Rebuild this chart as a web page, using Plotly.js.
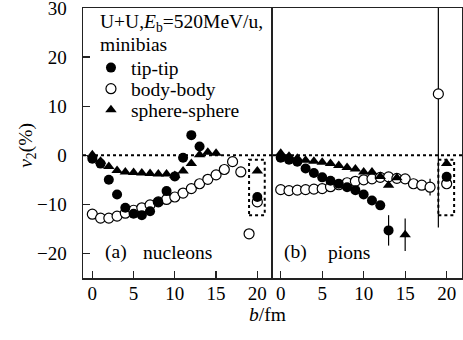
<!DOCTYPE html>
<html>
<head>
<meta charset="utf-8">
<script src="https://cdn.plot.ly/plotly-3.0.1.min.js"></script>
<style>html,body{margin:0;padding:0;background:#fff;}#chart{width:463px;height:340px;}</style>
</head>
<body>
<div id="chart"></div>
<script>
// ---- nucleons (panel a) ----
const nucTipX  = [0,1,2,3,4,5,6,7,8,9,10,11,12,13,20];
const nucTipY  = [-0.7,-1.7,-5.0,-8.0,-10.7,-11.9,-12.2,-11.4,-9.5,-7.3,-4.3,-0.5,4.1,1.8,-8.5];
const nucBodyX = [0,1,2,3,4,5,6,7,8,9,10,11,12,13,14,15,16,17,18,19,20];
const nucBodyY = [-12.0,-12.8,-12.8,-12.4,-11.8,-11.2,-10.7,-10.1,-9.5,-9.0,-8.5,-7.7,-6.8,-5.8,-4.9,-4.0,-2.9,-1.3,-3.4,-16.0,-9.5];
const nucSphX  = [0,1,2,3,4,5,6,7,8,9,10,11,12,13,14,15,20];
const nucSphY  = [0.1,-1.2,-2.3,-3.1,-3.4,-3.5,-3.6,-3.7,-3.8,-3.8,-4.1,-3.2,-1.7,0.1,0.6,0.4,-3.2];

// ---- pions (panel b) ----
const piTipX   = [0,1,2,3,4,5,6,7,8,9,10,11,12,13,20];
const piTipY   = [-0.5,-0.9,-1.3,-2.7,-3.6,-4.5,-5.2,-5.8,-6.5,-7.1,-8.0,-9.2,-10.2,-15.3,-4.4];
const piTipErr = [0,0,0,0,0,0,0,0,0,0,0,0,0,3.1,0];
const piBodyX  = [0,1,2,3,4,5,6,7,8,9,10,11,12,13,14,15,16,17,18,19,20];
const piBodyY  = [-7.0,-7.2,-7.1,-7.0,-6.9,-6.8,-6.4,-6.0,-5.6,-5.3,-5.0,-4.8,-4.5,-4.4,-4.7,-4.8,-5.8,-6.1,-6.5,12.5,-5.8];
const piBodyErr= [0,0,0,0,0,0,0,0,0,0,0,0,0,0,0,0,0,0,1.7,27.2,0];
const piSphX   = [0,1,2,3,4,5,6,7,8,9,10,11,12,13,14,15,20];
const piSphY   = [0.4,-0.2,-0.6,-1.0,-1.2,-1.4,-1.7,-2.1,-2.5,-2.8,-3.4,-3.4,-4.3,-6.1,-4.6,-16.2,-1.7];
const piSphErr = [0,0,0,0,0,0,0,0,0,0,0,0,0,0,0,3.3,0];

const seriesNames = ['tip-tip','body-body','sphere-sphere'];
const xTicks = [0,5,10,15,20];

const FONT = 'Liberation Serif, Times New Roman, serif';
const K = '#000';
const TXT = 19.5;
const mTip  = {symbol:'circle', size:10, color:K, line:{width:0}};
const mBodyFill = {symbol:'circle', size:10, color:'#fff', line:{width:1.2, color:K}};
const mSph  = {symbol:'triangle-up', size:10, color:K, line:{width:0}};
const eb = arr => ({type:'data', array:arr, visible:true, color:K, thickness:1.2, width:0});

const traces = [
  {x:nucBodyX, y:nucBodyY, mode:'markers', marker:mBodyFill, name:seriesNames[1], legend:'legend2', xaxis:'x', yaxis:'y'},
  {x:nucTipX, y:nucTipY, mode:'markers', marker:mTip, name:seriesNames[0], legend:'legend', xaxis:'x', yaxis:'y'},
  {x:nucSphX, y:nucSphY, mode:'markers', marker:mSph, name:seriesNames[2], legend:'legend3', xaxis:'x', yaxis:'y'},
  {x:piBodyX, y:piBodyY, error_y:eb(piBodyErr), mode:'markers', marker:mBodyFill, name:seriesNames[1], showlegend:false, xaxis:'x2', yaxis:'y2'},
  {x:piTipX, y:piTipY, error_y:eb(piTipErr), mode:'markers', marker:mTip, name:seriesNames[0], showlegend:false, xaxis:'x2', yaxis:'y2'},
  {x:piSphX, y:piSphY, error_y:eb(piSphErr), mode:'markers', marker:mSph, name:seriesNames[2], showlegend:false, xaxis:'x2', yaxis:'y2'}
];

const axBase = {
  showline:true, mirror:true, linecolor:'#222', linewidth:1.5,
  ticks:'inside', ticklen:7, tickwidth:1.3, tickcolor:'#222',
  showgrid:false, zeroline:false, ticklabeloverflow:'allow',
  tickfont:{family:FONT, size:19, color:K}
};
const split = 0.5013;
const legBase = {x:0.021, xanchor:'left', yanchor:'middle', bgcolor:'rgba(0,0,0,0)',
                 font:{family:FONT, size:TXT, color:K}, itemwidth:30};

const layout = {
  width:463, height:340,
  margin:{l:83, r:1, t:8, b:62, pad:0},
  paper_bgcolor:'#fff', plot_bgcolor:'#fff',
  font:{family:FONT, size:TXT, color:K},
  showlegend:true,
  legend: Object.assign({}, legBase, {y:0.778}),
  legend2:Object.assign({}, legBase, {y:0.700}),
  legend3:Object.assign({}, legBase, {y:0.622}),
  xaxis:Object.assign({}, axBase, {domain:[0,split], range:[-1.13,21.9], tickvals:xTicks, anchor:'y', ticklabelstandoff:-2}),
  xaxis2:Object.assign({}, axBase, {domain:[split,1], range:[-0.93,21.85], tickvals:xTicks, anchor:'y2', ticklabelstandoff:-2}),
  yaxis:Object.assign({}, axBase, {range:[-25,30], dtick:10, anchor:'x', mirror:false, ticklabelstandoff:11}),
  yaxis2:Object.assign({}, axBase, {range:[-25,30], dtick:10, anchor:'x2', ticks:'', showticklabels:false}),
  shapes:[
    {type:'line', xref:'x domain', yref:'y', x0:0, x1:1, y0:0, y1:0, line:{color:K, width:2, dash:'3px,3px'}},
    {type:'line', xref:'x2 domain', yref:'y2', x0:0, x1:1, y0:0, y1:0, line:{color:K, width:2, dash:'3px,3px'}},
    {type:'rect', xref:'x', yref:'y', x0:19.0, x1:20.9, y0:-12.2, y1:-0.9, line:{color:K, width:2, dash:'3px,3px'}},
    {type:'rect', xref:'x2', yref:'y2', x0:19.0, x1:20.9, y0:-12.2, y1:-0.9, line:{color:K, width:2, dash:'3px,3px'}}
  ],
  annotations:[
    {xref:'paper', yref:'paper', x:-0.148, y:0.493, xanchor:'center', yanchor:'middle', showarrow:false, textangle:-90,
     text:'<i>v</i><sub>2</sub>(%)', font:{family:FONT, size:TXT, color:K}},
    {xref:'paper', yref:'paper', x:0.040, y:0.944, xanchor:'left', yanchor:'middle', showarrow:false,
     text:'U+U,<i>E</i><sub>b</sub>=520MeV/u,', font:{family:FONT, size:TXT, color:K}},
    {xref:'paper', yref:'paper', x:0.040, y:0.863, xanchor:'left', yanchor:'middle', showarrow:false,
     text:'minibias', font:{family:FONT, size:TXT, color:K}},
    {xref:'paper', yref:'paper', x:0.053, y:0.096, xanchor:'left', yanchor:'middle', showarrow:false,
     text:'(a)', font:{family:FONT, size:TXT, color:K}},
    {xref:'paper', yref:'paper', x:0.154, y:0.096, xanchor:'left', yanchor:'middle', showarrow:false,
     text:'nucleons', font:{family:FONT, size:TXT, color:K}},
    {xref:'paper', yref:'paper', x:0.525, y:0.096, xanchor:'left', yanchor:'middle', showarrow:false,
     text:'(b)', font:{family:FONT, size:TXT, color:K}},
    {xref:'paper', yref:'paper', x:0.642, y:0.096, xanchor:'left', yanchor:'middle', showarrow:false,
     text:'pions', font:{family:FONT, size:TXT, color:K}},
    {xref:'paper', yref:'paper', x:0.4855, y:-0.137, xanchor:'center', yanchor:'middle', showarrow:false,
     text:'<i>b</i>/fm', font:{family:FONT, size:TXT, color:K}}
  ]
};

Plotly.newPlot('chart', traces, layout, {staticPlot:true, displayModeBar:false});
</script>
</body>
</html>
